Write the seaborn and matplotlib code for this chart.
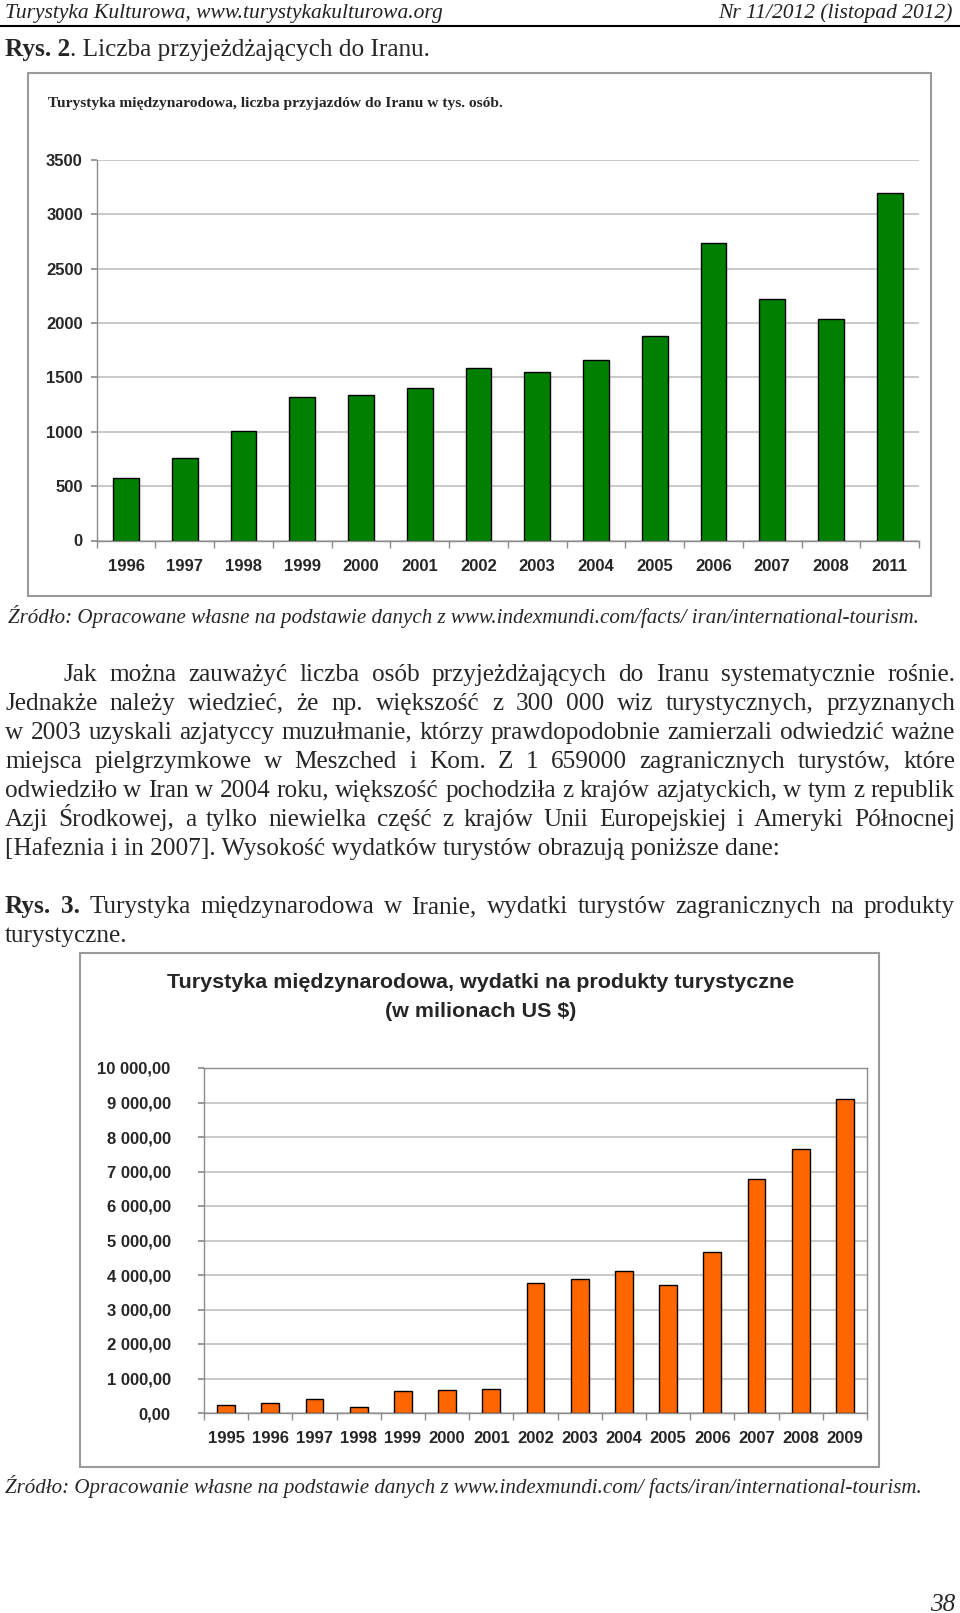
import numpy as np
import pandas as pd
import matplotlib
matplotlib.use("Agg")
import matplotlib.pyplot as plt
import seaborn as sns
from matplotlib.patches import Rectangle
from matplotlib.lines import Line2D
from matplotlib.ticker import FixedLocator, FuncFormatter

# ---------------- data ----------------
arrival_years = ["1996", "1997", "1998", "1999", "2000", "2001", "2002",
                 "2003", "2004", "2005", "2006", "2007", "2008", "2011"]
arrivals = [573, 760, 1008, 1324, 1336, 1400, 1587, 1548, 1661, 1885,
            2734, 2222, 2035, 3200]
arrival_ticks = [0, 500, 1000, 1500, 2000, 2500, 3000, 3500]

spend_years = ["1995", "1996", "1997", "1998", "1999", "2000", "2001", "2002",
               "2003", "2004", "2005", "2006", "2007", "2008", "2009"]
spending = [240, 280, 396, 164, 627, 666, 695, 3755, 3870, 4102, 3716,
            4681, 6795, 7645, 9112]
spend_ticks = [0, 1000, 2000, 3000, 4000, 5000, 6000, 7000, 8000, 9000, 10000]

W, H = 960, 1613
sns.set_theme(style="white")
plt.rcParams['font.family'] = ['Liberation Serif', 'DejaVu Serif']

fig = plt.figure(figsize=(9.6, 16.13), dpi=100)
fig.patch.set_facecolor("white")
renderer = fig.canvas.get_renderer()


def fx(x):
    return x / W


def fy(y):
    return 1 - y / H


def wpx(t):
    return t.get_window_extent(renderer).width


def base(y, size):
    # convert a visual line centre (px) to a baseline position
    return y + 0.3 * size * 100 / 72


def put(x, y, s, size=12, baseline=False, **kw):
    if baseline:
        kw["va"] = "baseline"
        y = base(y, size)
    else:
        kw.setdefault("va", "center")
    return fig.text(fx(x), fy(y), s, fontsize=size, **kw)


def fit(x, y, s, target, baseline=False, **kw):
    t = put(x, y, s, size=12, **kw)
    size = 12 * target / wpx(t)
    t.set_fontsize(size)
    if baseline:
        t.set_va("baseline")
        t.set_position((fx(x), fy(base(y, size))))
    return t


def justify(x0, x1, y, segs, size, family):
    texts = []
    for word, weight in segs:
        texts.append(fig.text(0, 0, word, fontsize=size, fontweight=weight,
                              family=family, va="baseline"))
    widths = [wpx(t) for t in texts]
    gap = (x1 - x0 - sum(widths)) / max(len(texts) - 1, 1)
    x = x0
    yb = base(y, size)
    for t, w in zip(texts, widths):
        t.set_position((fx(x), fy(yb)))
        x += w + gap


serif = ['Liberation Serif', 'DejaVu Serif']
sans = ['Liberation Sans', 'DejaVu Sans']

# ---------------- page header ----------------
hdr = fit(5, 12, "Turystyka Kulturowa, www.turystykakulturowa.org", 437,
          baseline=True, family=serif, style="italic", color="#222222")
put(953, 12, "Nr 11/2012 (listopad 2012)", size=hdr.get_fontsize(), baseline=True,
    family=serif, style="italic", ha="right", color="#222222")
fig.add_artist(Line2D([0, 1], [fy(25.5), fy(25.5)], transform=fig.transFigure,
                      color="black", lw=1.5))

# ---------------- body font size ----------------
last = fit(5, 847, "[Hafeznia i in 2007]. Wysokość wydatków turystów obrazują poniższe dane:",
           774, baseline=True, family=serif)
BODY = last.get_fontsize()

# Rys. 2 caption
t1 = put(5, 48.5, "Rys. 2", size=BODY, baseline=True, family=serif, fontweight="bold")
put(5 + wpx(t1), 48.5, ". Liczba przyjeżdżających do Iranu.", size=BODY,
    baseline=True, family=serif)

# ---------------- chart 1 ----------------
fig.add_artist(Rectangle((fx(28), fy(596)), (931 - 28) / W, (596 - 72.7) / H,
                         transform=fig.transFigure, fill=False,
                         edgecolor="#9a9a9a", lw=1.5))
fit(48, 104, "Turystyka międzynarodowa, liczba przyjazdów do Iranu w tys. osób.", 451,
    family=serif, fontweight="bold")

ax1 = fig.add_axes([fx(96.7), fy(540.5), (919 - 96.7) / W, (540.5 - 160) / H])
sns.barplot(x=arrival_years, y=arrivals, color="#008000", saturation=1,
            edgecolor="black", linewidth=1, width=0.44, ax=ax1)
ax1.set_ylim(0, 3500)
ax1.set_xlim(-0.5, len(arrival_years) - 0.5)
ax1.set_yticks(arrival_ticks)
ax1.yaxis.grid(True, color="#c0c0c0", lw=1.2)
ax1.set_axisbelow(True)
for s in ["top", "right"]:
    ax1.spines[s].set_visible(False)
for s in ["left", "bottom"]:
    ax1.spines[s].set_color("#8c8c8c")
    ax1.spines[s].set_linewidth(1)
ax1.set_facecolor("white")
ax1.xaxis.set_minor_locator(FixedLocator(np.arange(-0.5, len(arrival_years), 1.0)))
ax1.tick_params(axis="x", which="major", length=0, pad=13)
ax1.tick_params(axis="x", which="minor", length=5, color="#8c8c8c", direction="out", bottom=True)
ax1.tick_params(axis="y", which="major", length=4, color="#8c8c8c", direction="out", left=True, pad=6)
for lab in ax1.get_xticklabels() + ax1.get_yticklabels():
    lab.set_family(sans)
    lab.set_fontweight("bold")
    lab.set_fontsize(12)
ax1.set_xlabel("")
ax1.set_ylabel("")

fit(8, 617, "Źródło: Opracowane własne na podstawie danych z www.indexmundi.com/facts/ iran/international-tourism.",
    911, baseline=True, family=serif, style="italic")

# ---------------- paragraph ----------------
para = [
    (64, 673, "Jak można zauważyć liczba osób przyjeżdżających do Iranu systematycznie rośnie."),
    (5, 702, "Jednakże należy wiedzieć, że np. większość z 300 000 wiz turystycznych, przyznanych"),
    (5, 731, "w 2003 uzyskali azjatyccy muzułmanie, którzy prawdopodobnie zamierzali odwiedzić ważne"),
    (5, 760, "miejsca pielgrzymkowe w Meszched i Kom. Z 1 659000 zagranicznych turystów, które"),
    (5, 789, "odwiedziło w Iran w 2004 roku, większość pochodziła z krajów azjatyckich, w tym z republik"),
    (5, 818, "Azji Środkowej, a tylko niewielka część z krajów Unii Europejskiej i Ameryki Północnej"),
]
for x0, y, line in para:
    justify(x0, 955, y, [(w, "normal") for w in line.split(" ")], BODY, serif)

rys3 = "Rys. 3. Turystyka międzynarodowa w Iranie, wydatki turystów zagranicznych na produkty".split(" ")
justify(5, 955, 905.5, [(w, "bold" if i < 2 else "normal") for i, w in enumerate(rys3)], BODY, serif)
put(5, 934.5, "turystyczne.", size=BODY, baseline=True, family=serif)

# ---------------- chart 2 ----------------
fig.add_artist(Rectangle((fx(80), fy(1467)), (879 - 80) / W, (1467 - 953) / H,
                         transform=fig.transFigure, fill=False,
                         edgecolor="#9a9a9a", lw=1.5))
tt = fit(481, 983, "Turystyka międzynarodowa, wydatki na produkty turystyczne", 622,
         family=sans, fontweight="bold", ha="center")
put(481, 1011.5, "(w milionach US $)", size=tt.get_fontsize(), family=sans,
    fontweight="bold", ha="center")

ax2 = fig.add_axes([fx(204), fy(1413), (867 - 204) / W, (1413 - 1068) / H])
sns.barplot(x=spend_years, y=spending, color="#ff6600", saturation=1,
            edgecolor="black", linewidth=1, width=0.4, ax=ax2)
ax2.set_ylim(0, 10000)
ax2.set_xlim(-0.5, len(spend_years) - 0.5)
ax2.set_yticks(spend_ticks)
ax2.yaxis.set_major_formatter(FuncFormatter(
    lambda v, p: f"{v:,.2f}".replace(",", " ").replace(".", ",")))
ax2.yaxis.grid(True, color="#c0c0c0", lw=1.2)
ax2.set_axisbelow(True)
for s in ["top", "right", "left", "bottom"]:
    ax2.spines[s].set_visible(True)
    ax2.spines[s].set_color("#8c8c8c")
    ax2.spines[s].set_linewidth(1)
ax2.set_facecolor("white")
ax2.xaxis.set_minor_locator(FixedLocator(np.arange(-0.5, len(spend_years), 1.0)))
ax2.tick_params(axis="x", which="major", length=0, pad=13)
ax2.tick_params(axis="x", which="minor", length=5, color="#8c8c8c", direction="out", bottom=True)
ax2.tick_params(axis="y", which="major", length=4, color="#8c8c8c", direction="out", left=True, pad=20)
for lab in ax2.get_xticklabels() + ax2.get_yticklabels():
    lab.set_family(sans)
    lab.set_fontweight("bold")
    lab.set_fontsize(12)
ax2.set_xlabel("")
ax2.set_ylabel("")

fit(5, 1487, "Źródło: Opracowanie własne na podstawie danych z www.indexmundi.com/ facts/iran/international-tourism.",
    916, baseline=True, family=serif, style="italic")

put(955, 1603, "38", size=BODY, baseline=True, family=serif, style="italic", ha="right")

fig.savefig("out.png", dpi=100, facecolor="white")
